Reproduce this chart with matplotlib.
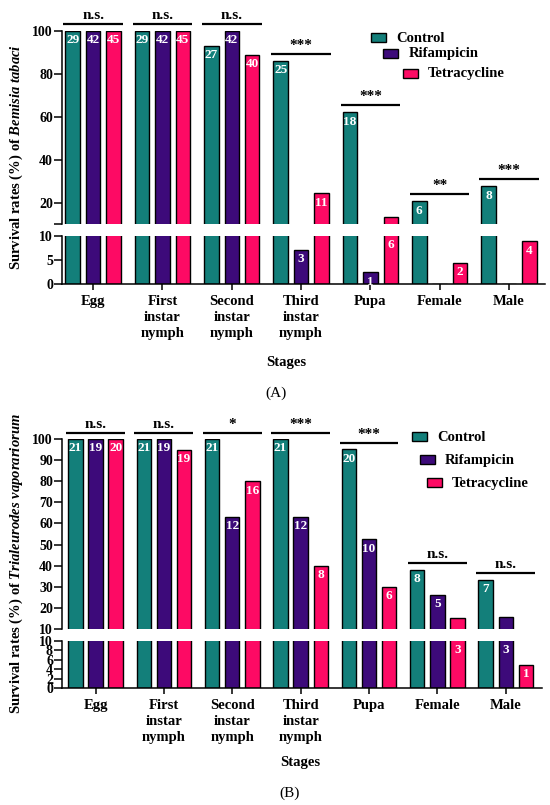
import numpy as np
import matplotlib
matplotlib.use("Agg")
import matplotlib.pyplot as plt
from matplotlib.patches import Rectangle

plt.rcParams['font.family'] = 'Liberation Serif'
plt.rcParams['font.weight'] = 'bold'
plt.rcParams['mathtext.fontset'] = 'custom'
plt.rcParams['mathtext.rm'] = 'Liberation Serif:bold'
plt.rcParams['mathtext.it'] = 'Liberation Serif:italic:bold'

stages = ["Egg", "First\ninstar\nnymph", "Second\ninstar\nnymph",
          "Third\ninstar\nnymph", "Pupa", "Female", "Male"]
treatments = ["Control", "Rifampicin", "Tetracycline"]
colors = ["#137f7a", "#3d0a7a", "#fd0a64"]

# (A) Bemisia tabaci: survival (%) and number of survivors
tabaci_control = [100, 100, 93.1, 86.2, 62.1, 20.7, 27.6]
tabaci_rif = [100, 100, 100, 7.1, 2.4, 0, 0]
tabaci_tet = [100, 100, 88.9, 24.4, 13.3, 4.4, 8.9]
tabaci_n_control = [29, 29, 27, 25, 18, 6, 8]
tabaci_n_rif = [42, 42, 42, 3, 1, 0, 0]
tabaci_n_tet = [45, 45, 40, 11, 6, 2, 4]
tabaci_sig = ["n.s.", "n.s.", "n.s.", "***", "***", "**", "***"]

# (B) Trialeurodes vaporariorum
vap_control = [100, 100, 100, 100, 95.2, 38.1, 33.3]
vap_rif = [100, 100, 63.2, 63.2, 52.6, 26.3, 15.8]
vap_tet = [100, 95, 80, 40, 30, 15, 5]
vap_n_control = [21, 21, 21, 21, 20, 8, 7]
vap_n_rif = [19, 19, 12, 12, 10, 5, 3]
vap_n_tet = [20, 19, 16, 8, 6, 3, 1]
vap_sig = ["n.s.", "n.s.", "*", "***", "***", "n.s.", "n.s."]

W, H = 550, 805
fig = plt.figure(figsize=(W / 100, H / 100), dpi=100)


def px_axes(l, r, t, b):
    return fig.add_axes([l / W, 1 - b / H, (r - l) / W, (b - t) / H])


def draw_panel(box, rates, counts, sig, top_ticks, top_labels, low_ticks,
               xlim, species, sig_gap):
    l, r, t, b_top, t_low, b = box
    ax_top = px_axes(l, r, t, b_top)
    ax_low = px_axes(l, r, t_low, b)
    x = np.arange(len(stages))
    offsets = [-0.295, 0.0, 0.295]

    for ax in (ax_top, ax_low):
        for k in range(3):
            ax.bar(x + offsets[k], rates[k], width=0.21, color=colors[k],
                   edgecolor='black', linewidth=1.0, zorder=2)
        ax.set_xlim(*xlim)
        ax.spines['top'].set_visible(False)
        ax.spines['right'].set_visible(False)
        for s in ('left', 'bottom'):
            ax.spines[s].set_linewidth(1.1)
        ax.tick_params(axis='y', direction='out', length=5.5, width=1.1,
                       labelsize=10, pad=1)
        ax.tick_params(axis='x', direction='out', length=4, width=1.1,
                       labelsize=10.5, pad=4)

    ax_top.set_ylim(10, 100)
    ax_top.spines['bottom'].set_visible(False)
    ax_top.set_xticks([])
    ax_top.set_yticks(top_ticks)
    ax_top.set_yticklabels(top_labels)

    ax_low.set_ylim(0, 10)
    ax_low.set_yticks(low_ticks)
    ax_low.set_xticks(x)
    ax_low.set_xticklabels(stages, linespacing=1.3)

    # counts printed inside the bars
    for k in range(3):
        for i in range(len(stages)):
            v = rates[k][i]
            n = counts[k][i]
            if n == 0:
                continue
            if v >= 19:
                ax, y = ax_top, v
            else:
                ax, y = ax_low, min(v, 10)
            ax.annotate(str(n), (x[i] + offsets[k], y), xytext=(0, -2.5),
                        textcoords='offset points', ha='center', va='top',
                        color='white', fontsize=9.5, fontweight='bold',
                        zorder=3, annotation_clip=False)

    # significance bars
    for i in range(len(stages)):
        top = max(rates[0][i], rates[1][i], rates[2][i]) + sig_gap
        ax_top.plot([x[i] - 0.43, x[i] + 0.43], [top, top], color='black',
                    lw=1.6, clip_on=False, solid_capstyle='butt')
        ax_top.annotate(sig[i], (x[i], top), xytext=(0, 1.5),
                        textcoords='offset points', ha='center', va='bottom',
                        fontsize=11, fontweight='bold', annotation_clip=False)

    yc = 1 - (t + b) / 2 / H
    fig.text(16 / W, yc, "Survival rates (%) of $\\mathit{" + species + "}$",
             rotation=90, ha='center', va='center', fontsize=10.5,
             fontweight='bold')
    return ax_top, ax_low


def draw_legend(items):
    for k, (px, py, tx) in enumerate(items):
        fig.add_artist(Rectangle((px / W, 1 - (py + 4.5) / H), 15 / W, 9 / H,
                                 transform=fig.transFigure,
                                 facecolor=colors[k], edgecolor='black',
                                 linewidth=1.0))
        fig.text(tx / W, 1 - py / H, treatments[k], ha='left', va='center',
                 fontsize=10.5, fontweight='bold')


draw_panel((62, 545, 31, 224, 236, 284),
           [tabaci_control, tabaci_rif, tabaci_tet],
           [tabaci_n_control, tabaci_n_rif, tabaci_n_tet], tabaci_sig,
           [10, 20, 40, 60, 80, 100], ["", "20", "40", "60", "80", "100"],
           [0, 5, 10], (-0.45, 6.52), "Bemisia\\ tabaci", 3.2)
draw_legend([(371, 38, 396), (383, 54, 409), (403, 74, 428)])
fig.text(286 / W, 1 - 362 / H, "Stages", ha='center', va='center',
         fontsize=10.5, fontweight='bold')
fig.text(276 / W, 1 - 393 / H, "(A)", ha='center', va='center',
         fontsize=11, fontweight='normal')

draw_panel((62, 542, 439, 629, 641, 688),
           [vap_control, vap_rif, vap_tet],
           [vap_n_control, vap_n_rif, vap_n_tet], vap_sig,
           list(range(10, 101, 10)), [str(v) for v in range(10, 101, 10)],
           [0, 2, 4, 6, 8, 10], (-0.49, 6.53), "Trialeurodes\\ vaporariorum",
           3.0)
draw_legend([(412, 437, 437), (420, 460, 445), (427, 483, 452)])
fig.text(300 / W, 1 - 762 / H, "Stages", ha='center', va='center',
         fontsize=10.5, fontweight='bold')
fig.text(290 / W, 1 - 793 / H, "(B)", ha='center', va='center',
         fontsize=11, fontweight='normal')

fig.savefig("out.png", dpi=100)
